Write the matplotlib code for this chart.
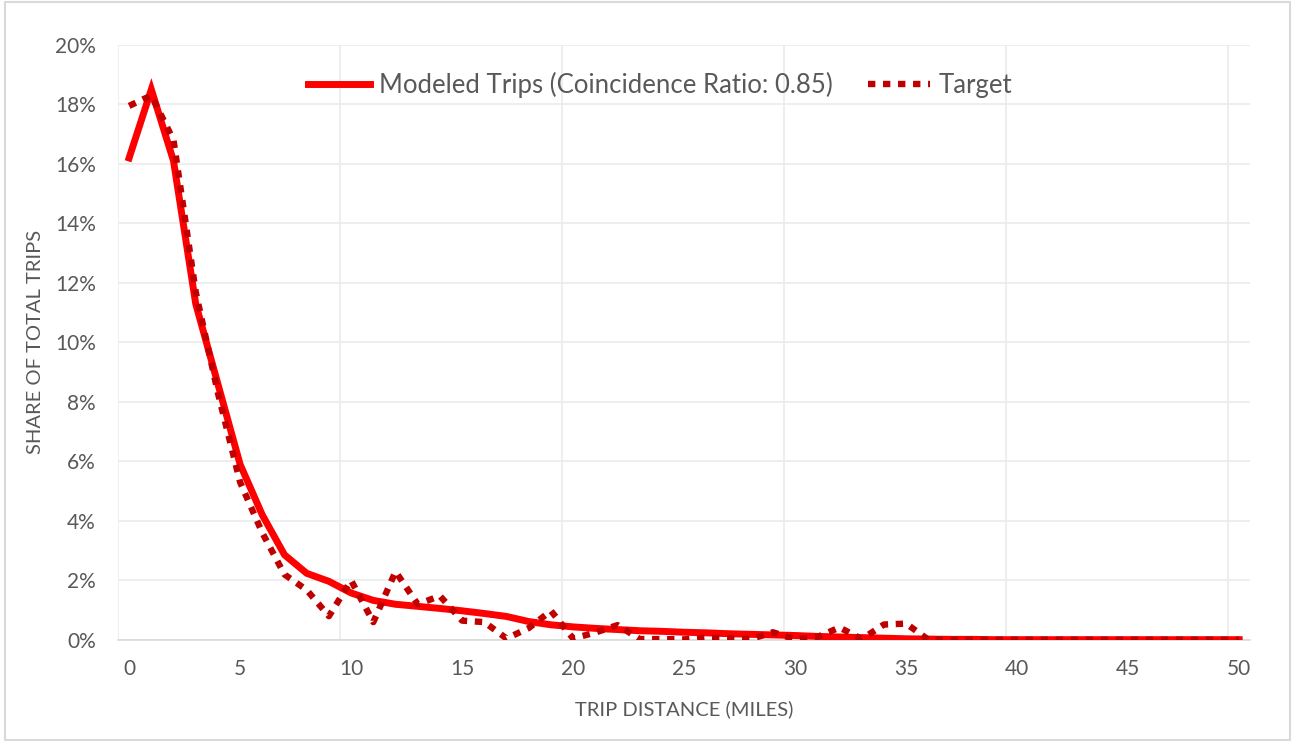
import matplotlib.pyplot as plt
from matplotlib.patches import Rectangle
from matplotlib.ticker import FuncFormatter

plt.rcParams['font.family'] = ['Lato', 'DejaVu Sans']

# trip distance bins (miles)
distance = list(range(51))

# share of total trips, percent
modeled = [16.2, 18.5, 16.1, 11.3, 8.6, 5.9, 4.2, 2.86, 2.24, 1.97,
           1.58, 1.33, 1.2, 1.13, 1.06, 0.98, 0.89, 0.79, 0.62, 0.51,
           0.44, 0.39, 0.35, 0.31, 0.29, 0.26, 0.24, 0.21, 0.19, 0.17,
           0.15, 0.12, 0.10, 0.08, 0.06, 0.04, 0.03, 0.02, 0.02, 0.01,
           0.01, 0.01, 0.01, 0.01, 0.01, 0.01, 0.01, 0.01, 0.01, 0.01,
           0.01]
target = [17.95, 18.3, 16.8, 11.7, 8.3, 5.3, 3.6, 2.2, 1.68, 0.8,
          2.0, 0.6, 2.3, 1.2, 1.48, 0.65, 0.6, 0.05, 0.4, 0.98,
          0.05, 0.25, 0.5, 0.03, 0.03, 0.02, 0.08, 0.06, 0.03, 0.26,
          0.02, 0.1, 0.42, 0.03, 0.52, 0.55, 0.01, 0.01, 0.01, 0.01,
          0.01, 0.01, 0.01, 0.01, 0.01, 0.01, 0.01, 0.01, 0.01, 0.01,
          0.01]

modeled_label = 'Modeled Trips (Coincidence Ratio: 0.85)'
target_label = 'Target'

text_color = '#595959'
grid_color = '#ebebeb'
axis_color = '#d9d9d9'

fig = plt.figure(figsize=(12.94, 7.42), dpi=100)
ax = fig.add_axes([0.0912, 0.1375, 0.875, 0.802])

ax.plot(distance, modeled, color='#ff0000', lw=5.0, solid_joinstyle='miter',
        label=modeled_label, zorder=3)
ax.plot(distance, target, color='#c00000', lw=4.6, linestyle=(0, (1.15, 1.2)),
        dash_capstyle='butt', label=target_label, zorder=4)

ax.set_xlim(-0.5, 50.5)
ax.set_ylim(0, 20)
ax.set_xticks(range(0, 51, 5))
ax.set_yticks(range(0, 21, 2))
ax.yaxis.set_major_formatter(FuncFormatter(lambda v, p: f'{v:.0f}%'))

# gridlines between categories, every 10 bins
for gx in [-0.5, 9.5, 19.5, 29.5, 39.5, 49.5]:
    ax.axvline(gx, color=grid_color, lw=1.2, zorder=1)
ax.grid(axis='y', color=grid_color, lw=1.2, zorder=1)
ax.set_axisbelow(True)

for side in ['top', 'right', 'left']:
    ax.spines[side].set_visible(False)
ax.spines['bottom'].set_color(axis_color)
ax.spines['bottom'].set_linewidth(1.2)

ax.tick_params(axis='x', length=0, labelsize=15, colors=text_color, pad=14)
ax.tick_params(axis='y', length=0, labelsize=15, colors=text_color, pad=16)
ax.set_xlabel('TRIP DISTANCE (MILES)', fontsize=14.5, color=text_color, labelpad=15)
ax.set_ylabel('SHARE OF TOTAL TRIPS', fontsize=14.5, color=text_color, labelpad=8)

leg = ax.legend(loc='center', bbox_to_anchor=(0.479, 0.932), ncol=2,
                frameon=False, fontsize=18.5, handlelength=2.4, columnspacing=1.4,
                handletextpad=0.35)
for t in leg.get_texts():
    t.set_color(text_color)

# chart border
fig.patches.append(Rectangle((0.004, 0.003), 0.993, 0.994, transform=fig.transFigure,
                             fill=False, edgecolor=axis_color, lw=1.5))

fig.savefig('out.png', dpi=100)
